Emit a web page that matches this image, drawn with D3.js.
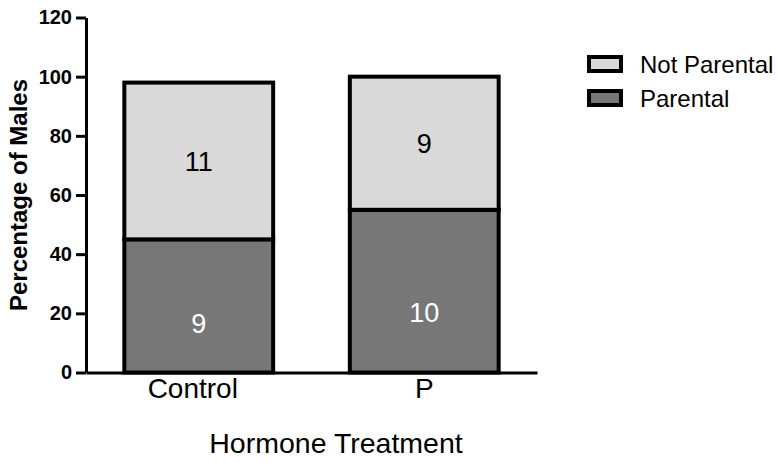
<!DOCTYPE html>
<html>
<head>
<meta charset="utf-8">
<script src="https://cdn.jsdelivr.net/npm/d3@7.9.0/dist/d3.min.js"></script>
<style>
    body { margin: 0; background: #fff; }
    svg { display: block; font-family: "Liberation Sans", Arial, sans-serif; }
</style>
</head>
<body>
<svg id="chart" width="777" height="463"></svg>
<script>
// data
const groups = ["Control", "P"];
const seriesNames = ["Parental", "Not Parental"];
const parental = [45, 55];        // percent
const notParental = [53, 45];     // percent
const counts = [[9, 11], [10, 9]]; // n per segment (parental, not parental)
const yTicks = [0, 20, 40, 60, 80, 100, 120];
const colors = ["#777777", "#d9d9d9"];

const svg = d3.select("#chart");

const x = d3.scaleBand()
    .domain(groups)
    .range([86, 537])
    .paddingInner(0.34)
    .paddingOuter(0.17);

const y = d3.scaleLinear()
    .domain([0, 120])
    .range([372.5, 17.5]);

// stack the two series
let rows = groups.map((g, i) => ({ group: g, Parental: parental[i], "Not Parental": notParental[i] }));
let stacked = d3.stack().keys(seriesNames)(rows);

// where the count label sits inside a segment (fraction from its top)
const labelPos = [0.63, 0.5];

stacked.forEach((layer, li) => {
    svg.append("g")
        .selectAll("rect")
        .data(layer)
        .join("rect")
        .attr("x", d => x(d.data.group))
        .attr("width", x.bandwidth())
        .attr("y", d => y(d[1]))
        .attr("height", d => y(d[0]) - y(d[1]))
        .attr("fill", colors[li])
        .attr("stroke", "#000")
        .attr("stroke-width", 4);

    svg.append("g")
        .selectAll("text")
        .data(layer)
        .join("text")
        .attr("x", d => x(d.data.group) + x.bandwidth() / 2)
        .attr("y", d => y(d[1]) + (y(d[0]) - y(d[1])) * labelPos[li])
        .attr("dy", "0.36em")
        .attr("text-anchor", "middle")
        .attr("font-size", 27)
        .attr("fill", li === 0 ? "#fff" : "#000")
        .text((d, i) => counts[i][li]);
});

// y axis
let yAxis = svg.append("g")
    .attr("transform", "translate(86,0)")
    .call(d3.axisLeft(y).tickValues(yTicks).tickSize(10).tickPadding(4).tickSizeOuter(0));
yAxis.selectAll("path, line").attr("stroke", "#000").attr("stroke-width", 3);
yAxis.selectAll("text")
    .attr("font-size", 20)
    .attr("font-weight", "bold")
    .attr("fill", "#000")
    .attr("font-family", "Liberation Sans, Arial, sans-serif");

// x axis
let xAxis = svg.append("g")
    .attr("transform", "translate(0,372.5)")
    .call(d3.axisBottom(x).tickSize(0).tickPadding(6).tickSizeOuter(0));
xAxis.select("path").attr("stroke", "#000").attr("stroke-width", 3);
xAxis.selectAll("text")
    .attr("font-size", 28)
    .attr("fill", "#000")
    .attr("font-family", "Liberation Sans, Arial, sans-serif");
xAxis.selectAll(".tick").filter(d => d === "Control").select("text").attr("dx", -6);

// axis titles
svg.append("text")
    .attr("transform", "translate(27,195) rotate(-90)")
    .attr("text-anchor", "middle")
    .attr("font-size", 24)
    .attr("font-weight", "bold")
    .text("Percentage of Males");

svg.append("text")
    .attr("x", 336)
    .attr("y", 453)
    .attr("text-anchor", "middle")
    .attr("font-size", 28.5)
    .text("Hormone Treatment");

// legend (Not Parental on top)
let legendItems = seriesNames.slice().reverse();
let legend = svg.append("g").attr("transform", "translate(589,57)");
legendItems.forEach((name, i) => {
    let row = legend.append("g").attr("transform", `translate(0,${i * 34})`);
    row.append("rect")
        .attr("width", 32)
        .attr("height", 14)
        .attr("fill", colors[seriesNames.indexOf(name)])
        .attr("stroke", "#000")
        .attr("stroke-width", 4);
    row.append("text")
        .attr("x", 51)
        .attr("y", 16)
        .attr("font-size", 24)
        .text(name);
});
</script>
</body>
</html>
